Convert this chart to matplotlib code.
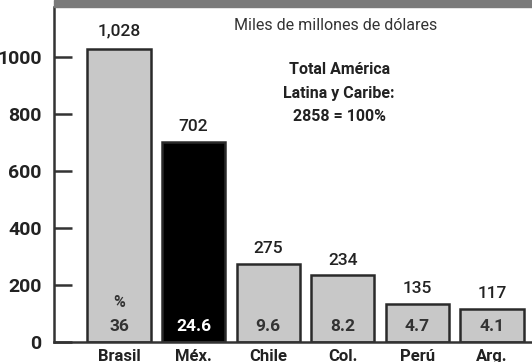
import matplotlib
matplotlib.use("Agg")
import matplotlib.pyplot as plt
from matplotlib.patches import Rectangle

countries = ["Brasil", "Méx.", "Chile", "Col.", "Perú", "Arg."]
values = [1028, 702, 275, 234, 135, 117]
value_labels = ["1,028", "702", "275", "234", "135", "117"]
shares = ["36", "24.6", "9.6", "8.2", "4.7", "4.1"]
yticks = [0, 200, 400, 600, 800, 1000]

plt.rcParams['font.family'] = ['Roboto', 'DejaVu Sans']

W, H = 532, 362
fig = plt.figure(figsize=(W / 100, H / 100), dpi=100)
ax = fig.add_axes([54 / W, (H - 342) / H, (W - 54) / W, (342 - 7) / H])

colors = ["#c8c8c8", "#000000", "#c8c8c8", "#c8c8c8", "#c8c8c8", "#c8c8c8"]
x = list(range(len(countries)))
ax.bar(x, values, width=0.845, color=colors, edgecolor="#2a2a2a", linewidth=1.8, zorder=2)

ax.set_xlim(-0.871, 5.536)
ax.set_ylim(0, 1175)

for xi, v, lab in zip(x, values, value_labels):
    off = 63 if v > 1000 else 53
    ax.text(xi, v + off, lab, ha="center", va="center", fontsize=12.5,
            fontweight="medium", color="#222222")

for xi, s, c in zip(x, shares, colors):
    ax.text(xi, 54, s, ha="center", va="center", fontsize=12.5, fontweight="bold",
            color="white" if c == "#000000" else "#333333", zorder=3)
ax.text(0, 137, "%", ha="center", va="center", fontsize=11.5, fontweight="bold", color="#333333")

ax.set_xticks(x)
ax.set_xticklabels(countries, fontsize=12, fontweight="bold", color="#222222")
ax.tick_params(axis="x", length=0, pad=5)

ax.set_yticks(yticks)
ax.set_yticklabels([str(t) for t in yticks], fontsize=14, fontweight="bold", color="#222222")
ax.tick_params(axis="y", direction="in", length=13, width=1.8, color="#333333", pad=9)

for s in ["top", "right"]:
    ax.spines[s].set_visible(False)
ax.spines["left"].set_linewidth(1.8)
ax.spines["left"].set_color("#333333")
ax.spines["bottom"].set_linewidth(1.8)
ax.spines["bottom"].set_color("#333333")

ax.text(2.90, 1110, "Miles de millones de dólares", ha="center", va="center",
        fontsize=11.5, color="#333333")
ax.text(2.95, 872, "Total América\nLatina y Caribe:\n2858 = 100%", ha="center", va="center",
        fontsize=11.5, fontweight="bold", color="#222222", linespacing=1.7)

fig.patches.append(Rectangle((54 / W, (H - 7) / H), (W - 54) / W, 7 / H,
                             transform=fig.transFigure, color="#7a7a7a", zorder=5))

fig.savefig("out.png", dpi=100)
